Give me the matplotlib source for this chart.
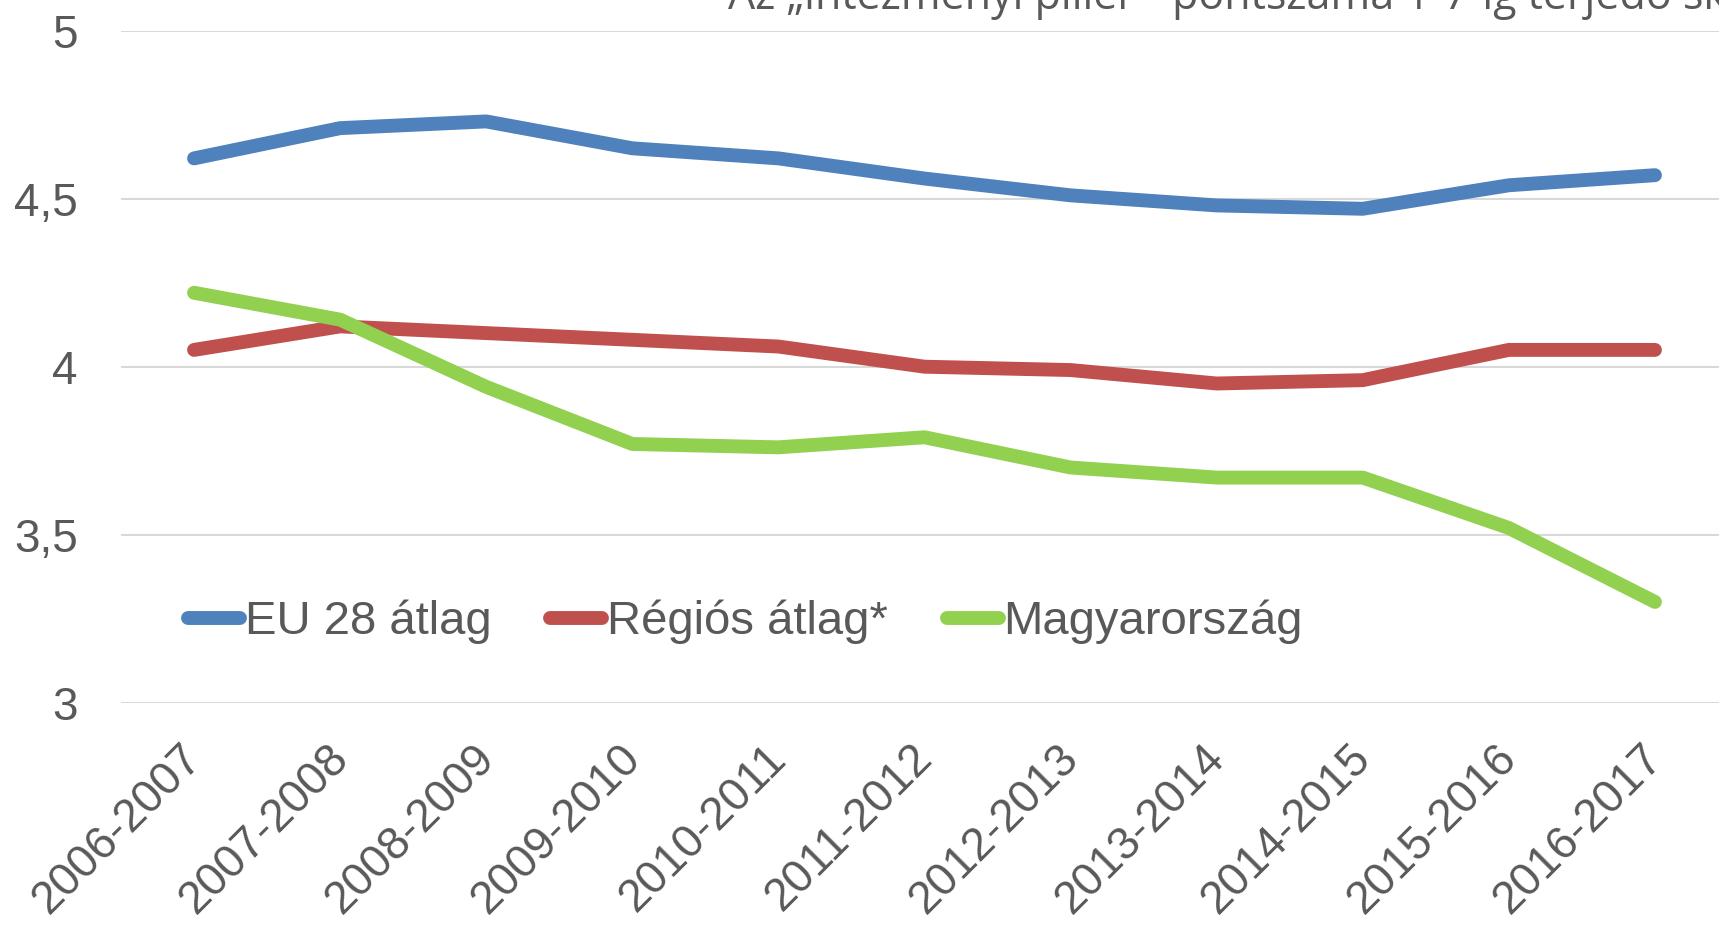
import matplotlib
matplotlib.use("Agg")
import matplotlib.pyplot as plt
from matplotlib.transforms import ScaledTranslation

categories = ["2006-2007", "2007-2008", "2008-2009", "2009-2010", "2010-2011",
              "2011-2012", "2012-2013", "2013-2014", "2014-2015", "2015-2016", "2016-2017"]
eu28 = [4.62, 4.71, 4.73, 4.65, 4.62, 4.56, 4.51, 4.48, 4.47, 4.54, 4.57]
regios = [4.05, 4.12, 4.10, 4.08, 4.06, 4.00, 3.99, 3.95, 3.96, 4.05, 4.05]
magyar = [4.22, 4.14, 3.94, 3.77, 3.76, 3.79, 3.70, 3.67, 3.67, 3.52, 3.30]
series_names = ["EU 28 átlag", "Régiós átlag*", "Magyarország"]
colors = ["#4F81BD", "#C0504D", "#92D050"]
yticks = [3, 3.5, 4, 4.5, 5]
ytick_labels = ["3", "3,5", "4", "4,5", "5"]
title = "Az „intézményi pillér”  pontszáma 1-7-ig terjedő skálán"

plt.rcParams['font.family'] = ['Liberation Sans', 'DejaVu Sans']
txt = "#595959"

W, H = 1719, 926
fig = plt.figure(figsize=(W / 100, H / 100), dpi=100)
left, right = 121 / W, 1728 / W
top, bottom = 1 - 30.7 / H, 1 - 702.7 / H
ax = fig.add_axes([left, bottom, right - left, top - bottom])

x = list(range(len(categories)))
for vals, name, c in zip([eu28, regios, magyar], series_names, colors):
    ax.plot(x, vals, color=c, lw=10, solid_capstyle='round', solid_joinstyle='round',
            label=name, zorder=3)

ax.set_xlim(-0.5, len(categories) - 0.5)
ax.set_ylim(3, 5)
ax.set_yticks(yticks)
ax.set_yticklabels(ytick_labels)
ax.set_xticks(x)
ax.set_xticklabels(categories, rotation=45, ha='right', va='top', rotation_mode='anchor')
ax.tick_params(axis='y', length=0, pad=31, labelsize=33, labelcolor=txt)
ax.tick_params(axis='x', length=0, pad=24, labelsize=33, labelcolor=txt)
shift = ScaledTranslation(-14 / 100, 0, fig.dpi_scale_trans)
for lab in ax.get_xticklabels():
    lab.set_transform(lab.get_transform() + shift)
ax.grid(axis='y', color='#D9D9D9', lw=1.5, zorder=0)
for s in ax.spines.values():
    s.set_visible(False)
ax.set_axisbelow(True)

leg = fig.legend(loc='center left', bbox_to_anchor=(188 / W, 1 - 622 / H), ncol=3,
                 frameon=False, fontsize=34, handlelength=1.1, handletextpad=0.1,
                 columnspacing=1.25, borderpad=0, borderaxespad=0)
for t in leg.get_texts():
    t.set_color(txt)
for l in leg.get_lines():
    l.set_linewidth(10)
    l.set_solid_capstyle('round')

fig.text(728 / W, 1 - 9 / H, title, va='baseline', ha='left', fontsize=31,
         color=txt, family=['Open Sans', 'DejaVu Sans'])

fig.savefig("out.png", dpi=100)
